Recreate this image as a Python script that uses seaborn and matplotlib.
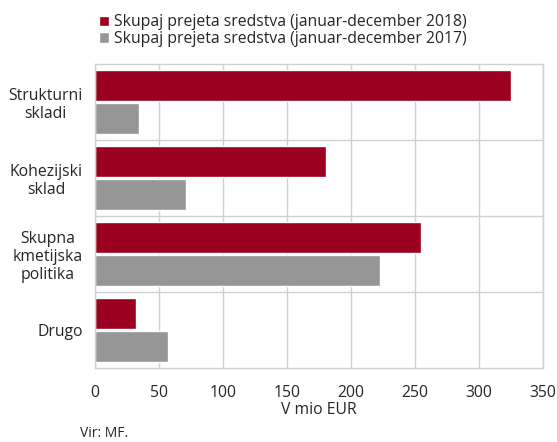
import pandas as pd
import matplotlib.pyplot as plt
import seaborn as sns
from matplotlib.ticker import FixedLocator

# Data (mio EUR)
categories = ["Strukturni\nskladi", "Kohezijski\nsklad", "Skupna\nkmetijska\npolitika", "Drugo"]
values_2018 = [325, 180.5, 255, 32]
values_2017 = [34, 71, 223, 57]
series_names = ["Skupaj prejeta sredstva (januar-december 2018)",
                "Skupaj prejeta sredstva (januar-december 2017)"]
x_ticks = [0, 50, 100, 150, 200, 250, 300, 350]

df = pd.DataFrame({
    "kategorija": categories * 2,
    "vrednost": values_2018 + values_2017,
    "serija": [series_names[0]] * 4 + [series_names[1]] * 4,
})

sns.set_style("white")
plt.rcParams["font.family"] = ["Open Sans", "DejaVu Sans"]
fs = 11.3

fig = plt.figure(figsize=(5.57, 4.42), dpi=100)
ax = fig.add_axes([0.1706, 0.167, 0.8044, 0.688])

sns.barplot(data=df, y="kategorija", x="vrednost", hue="serija", orient="h",
            palette=["#9b0020", "#969696"], width=0.86, gap=0.06,
            saturation=1, ax=ax)

ax.set_xlim(0, 350)
ax.set_ylim(3.5, -0.5)
ax.set_xticks(x_ticks)
ax.set_xticklabels([str(t) for t in x_ticks], fontsize=fs)
ax.yaxis.set_minor_locator(FixedLocator([0.5, 1.5, 2.5]))
ax.grid(axis="x", which="major", color="#d0d0d0", linewidth=1)
ax.grid(axis="y", which="minor", color="#d0d0d0", linewidth=1)
ax.set_axisbelow(True)
for s in ax.spines.values():
    s.set_color("#d0d0d0")
    s.set_linewidth(1)
ax.tick_params(axis="both", which="both", length=0)
ax.tick_params(axis="x", pad=12)
ax.tick_params(axis="y", pad=9)
for lbl in ax.get_yticklabels():
    lbl.set_multialignment("center")
    lbl.set_fontsize(fs)
    lbl.set_linespacing(1.15)

ax.set_ylabel("")
ax.set_xlabel("V mio EUR", fontsize=fs, labelpad=1)

leg = ax.legend(loc="lower left", bbox_to_anchor=(-0.005, 1.035), ncol=1, frameon=False,
                fontsize=fs, handlelength=0.65, handleheight=0.65, handletextpad=0.3,
                labelspacing=0.05, borderaxespad=0)

fig.text(0.144, 0.003, "Vir: MF.", fontsize=10, va="bottom", ha="left")

plt.savefig("out.png", dpi=100)
